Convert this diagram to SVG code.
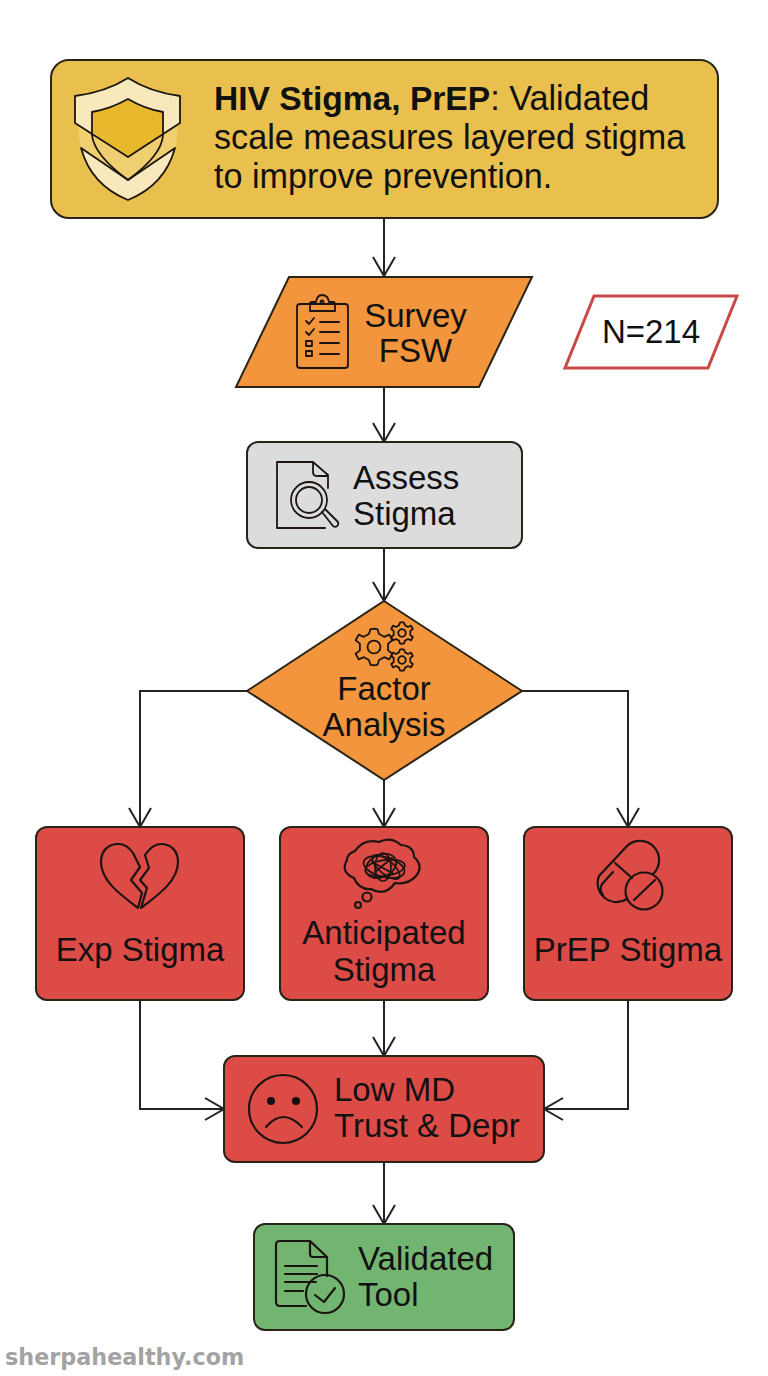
<svg xmlns="http://www.w3.org/2000/svg" width="768" height="1376" viewBox="0 0 768 1376">
<defs>
<marker id="arr" markerUnits="userSpaceOnUse" markerWidth="26" markerHeight="26" refX="22" refY="13" orient="auto"><path d="M3 2L22 13L3 24" fill="none" stroke="#222" stroke-width="2"/></marker>
<g id="gear"><path vector-effect="non-scaling-stroke" d="M-2 -10.500Q0 -11 2 -10.500L3 -7.600L6 -6L9 -7.300L10.800 -4L8.300 -2L8.300 2L10.800 4L9 7.300L6 6L3 7.600L2 10.500Q0 11 -2 10.500L-3 7.600L-6 6L-9 7.300L-10.800 4L-8.300 2L-8.300 -2L-10.800 -4L-9 -7.300L-6 -6L-3 -7.600Z"/><circle vector-effect="non-scaling-stroke" r="3.800"/></g>
</defs>
<style>
text{font-family:"Liberation Sans",Arial,sans-serif;font-size:33px;fill:#111}
.t{font-size:34.2px}
.n{stroke:#2a2418;stroke-width:2}
.red{fill:#dd4b47}
.org{fill:#f2953c}
.i{fill:none;stroke:#1c1410;stroke-width:2.200;stroke-linecap:round;stroke-linejoin:round}
.c{fill:none;stroke:#222;stroke-width:2}
.mid{text-anchor:middle}
</style>
<rect width="768" height="1376" fill="#fff"/>
<g id="connectors">
<path class="c" marker-end="url(#arr)" d="M384 219V276"/>
<path class="c" marker-end="url(#arr)" d="M384 387V442"/>
<path class="c" marker-end="url(#arr)" d="M384 548V601"/>
<path class="c" marker-end="url(#arr)" d="M247 691H140V827"/>
<path class="c" marker-end="url(#arr)" d="M384 780V827"/>
<path class="c" marker-end="url(#arr)" d="M522 691H628V827"/>
<path class="c" marker-end="url(#arr)" d="M140 1000V1109H224"/>
<path class="c" marker-end="url(#arr)" d="M384 1000V1056"/>
<path class="c" marker-end="url(#arr)" d="M628 1000V1109H544"/>
<path class="c" marker-end="url(#arr)" d="M384 1162V1224"/>
</g>
<g id="title">
<rect class="n" x="51" y="60" width="667" height="158" rx="18" fill="#e9c04e"/>
<path d="M128 78Q150 92 180 96V123L128 157L75 123V96Q106 92 128 78Z" fill="#f8e8bb"/>
<path d="M79 126L128 157L177 126Q178 140 175 148L128 180L81 148Q78 138 79 126Z" fill="#f0cf70"/>
<path d="M81 148L128 180L175 148Q165 185 128 200Q91 185 81 148Z" fill="#f8e8bb"/>
<path d="M128 99Q145 109 163 112V133L128 157L93 133V112Q110 109 128 99Z" fill="#e8b92c"/>
<g class="i" style="stroke-width:1.800">
<path d="M128 78Q150 92 180 96V123L128 157L75 123V96Q106 92 128 78Z"/>
<path d="M128 99Q145 109 163 112V135Q162 155 128 180Q94 155 92 135V112Q110 109 128 99Z"/>
<path d="M81 148L128 180L175 148Q165 185 128 200Q91 185 81 148Z"/>
</g>
<text class="t" x="214" y="110"><tspan font-weight="700" style="font-size:33.600px">HIV Stigma, PrEP</tspan>: Validated</text>
<text class="t" x="214" y="149">scale measures layered stigma</text>
<text class="t" x="214" y="188">to improve prevention.</text>
</g>
<g id="survey">
<path class="n org" d="M289 277H532L479 387H236Z"/>
<g class="i" style="stroke-width:1.800">
<rect x="297" y="304" width="51" height="64" rx="3"/>
<path d="M310 311V304Q310 302 312 302H316Q317 295 322 295Q328 295 329 302H333Q335 302 335 304V311Z"/><circle cx="322" cy="302" r="1.500"/>
<path d="M306 321L309 324L314 318M306 332L309 335L314 329M320 322H339M320 332H339M320 343H339M320 354H339"/>
<rect x="306" y="341" width="6" height="5"/><rect x="306" y="351" width="6" height="5"/>
</g>
<text class="mid" x="415.500" y="327">Survey</text>
<text class="mid" x="415.500" y="362">FSW</text>
</g>
<g id="n214">
<path d="M594 296H737L708 368H565Z" fill="#fff" stroke="#c94a45" stroke-width="3"/>
<text class="mid" x="651" y="343">N=214</text>
</g>
<g id="assess">
<rect class="n" x="247" y="442" width="275" height="106" rx="11" fill="#dcdcdc"/>
<g class="i" style="stroke-width:1.800">
<path d="M328 488V475L313 462H277V528H325M313 462V472Q313 476 317 476H328"/>
<circle cx="309" cy="500" r="18"/><circle cx="309" cy="500" r="13"/>
<path d="M322 512L333 526Q336 528 338 525Q339 523 337 521L325 509"/>
</g>
<text x="353" y="489">Assess</text>
<text x="353" y="525">Stigma</text>
</g>
<g id="factor">
<path class="n org" d="M384 601L522 691L384 780L247 691Z"/>
<g class="i" style="stroke-width:1.800">
<use href="#gear" transform="translate(374 647) scale(1.700)"/>
<use href="#gear" transform="translate(402 633) scale(1)"/>
<use href="#gear" transform="translate(402 660) scale(1)"/>
</g>
<text class="mid" x="384" y="700">Factor</text>
<text class="mid" x="384" y="736">Analysis</text>
</g>
<g id="exp">
<rect class="n red" x="36" y="827" width="208" height="173" rx="11"/>
<g class="i">
<path d="M138 908C118 893 101 880 101 862C101 851 108 844 118 844C124 844 129 847 133 853L140 867L131 880L142 893Z"/>
<path d="M141 908C161 893 178 880 178 862C178 851 171 844 161 844C154 844 149 849 145 855L149 868L140 880L147 888Z"/>
</g>
<text class="mid" x="140" y="961">Exp Stigma</text>
</g>
<g id="anticipated">
<rect class="n red" x="280" y="827" width="208" height="173" rx="11"/>
<path class="i" d="M355 851Q364 838 379 842Q391 836 401 845Q414 846 414 857Q424 866 416 876Q408 885 395 883Q385 897 371 889Q359 890 354 878Q340 872 347 860Q347 854 355 851Z"/>
<circle class="i" cx="367" cy="897" r="4.500"/><circle class="i" cx="358" cy="905" r="3"/>
<g class="i" style="stroke-width:1.700"><ellipse cx="384" cy="867" rx="21" ry="10" transform="rotate(15 384 867)"/><ellipse cx="381" cy="866" rx="16" ry="11" transform="rotate(-25 381 866)"/><ellipse cx="386" cy="867" rx="17" ry="7" transform="rotate(40 386 867)"/><ellipse cx="383" cy="867" rx="8" ry="14"/><ellipse cx="385" cy="868" rx="20" ry="8" transform="rotate(-8 385 868)"/><path d="M372 862L394 874M375 872L392 858"/></g>
<text class="mid" x="384" y="944">Anticipated</text>
<text class="mid" x="384" y="981">Stigma</text>
</g>
<g id="prep">
<rect class="n red" x="524" y="827" width="208" height="173" rx="11"/>
<g class="i">
<path d="M653 874A19 19 0 0 0 627 846L599 876A19 19 0 0 0 627 899M615 863L632 878"/>
<path d="M613 872L602 884Q599 890 603 895"/>
<circle cx="644" cy="891" r="18.500"/><path d="M634 900L655 880"/>
</g>
<text class="mid" x="628" y="961">PrEP Stigma</text>
</g>
<g id="low">
<rect class="n red" x="224" y="1056" width="320" height="106" rx="11"/>
<g class="i"><circle cx="283" cy="1109" r="34"/><path d="M266 1127Q283 1107 302 1127"/></g>
<circle cx="271" cy="1101" r="4" fill="#111"/><circle cx="296" cy="1101" r="4" fill="#111"/>
<text x="334" y="1101">Low MD</text>
<text x="334" y="1137">Trust &amp; Depr</text>
</g>
<g id="validated">
<rect class="n" x="254" y="1224" width="260" height="106" rx="11" fill="#72b571"/>
<g class="i">
<path d="M306 1306H280Q276 1306 276 1302V1245Q276 1241 280 1241H310L327 1257V1276M310 1241V1254Q310 1257 313 1257H327"/>
<path d="M285 1266H317M285 1274H317M285 1282H316M285 1291H303"/>
<circle cx="325" cy="1294" r="19"/><path d="M315 1295L324 1302L335 1288"/>
</g>
<text x="358" y="1270">Validated</text>
<text x="358" y="1306">Tool</text>
</g>
<text x="5" y="1365" style="font-family:'DejaVu Sans',sans-serif;font-size:22.300px;font-weight:700;fill:#a3a3a3">sherpahealthy.com</text>
</svg>
